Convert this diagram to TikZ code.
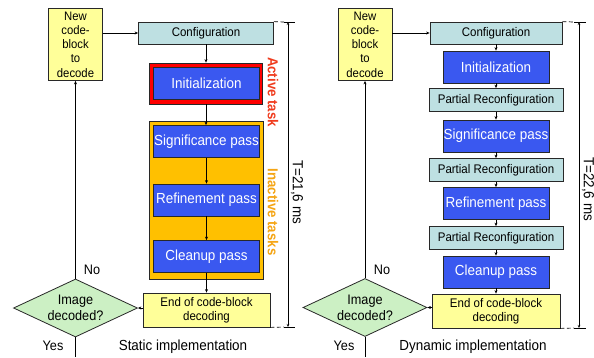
\documentclass[tikz,border=0pt]{standalone}
\usepackage{fontspec}
\setmainfont[FakeStretch=0.92]{Liberation Sans}
\usetikzlibrary{shapes.geometric,arrows.meta}
\definecolor{cfg}{RGB}{190,224,226}
\definecolor{blu}{RGB}{58,88,240}
\definecolor{yel}{RGB}{255,255,153}
\definecolor{grn}{RGB}{204,240,196}
\definecolor{org}{RGB}{255,192,0}
\definecolor{actred}{RGB}{240,60,30}
\definecolor{inact}{RGB}{245,165,20}
\definecolor{edge}{RGB}{40,40,40}
\begin{document}
\begin{tikzpicture}[x=1pt,y=-1pt,
 box/.style={draw=edge,line width=0.8pt,inner sep=0pt,align=center},
 cfgbox/.style={box,fill=cfg,font=\fontsize{12.5}{14}\selectfont},
 passbox/.style={box,fill=blu,text=white,minimum width=106,minimum height=32,font=\fontsize{14.6}{16}\selectfont},
 yelbox/.style={box,fill=yel,font=\fontsize{12.5}{14}\selectfont},
 newbox/.style={yelbox,minimum width=54,minimum height=72,font=\fontsize{12.3}{14.3}\selectfont},
 decision/.style={diamond,draw=edge,line width=0.8pt,fill=grn,inner sep=0pt,aspect=2.14,minimum width=124,minimum height=58,align=center,font=\fontsize{13.8}{16}\selectfont},
 lbl/.style={inner sep=0pt,anchor=base,font=\fontsize{13.8}{15}\selectfont},
 implbl/.style={inner sep=0pt,anchor=base,font=\fontsize{14.6}{16}\selectfont},
 arr/.style={-{Stealth[length=3.5pt,width=3pt]},line width=0.7pt,draw=black},
 ln/.style={line width=0.7pt,draw=black},
 dimline/.style={{Stealth[length=3pt,width=2.5pt]}-{Stealth[length=3pt,width=2.5pt]},line width=0.7pt},
 dashext/.style={line width=0.7pt,dash pattern=on 4pt off 2.5pt},
 sidelbl/.style={rotate=-90,inner sep=0pt,font=\bfseries\fontsize{14.4}{16}\selectfont},
 timelbl/.style={rotate=-90,inner sep=0pt,font=\fontsize{14.6}{16}\selectfont}
]
\useasboundingbox (0,0) rectangle (594,357);
\fill[white] (0,0) rectangle (594,357);

% ---------- left: static ----------
\node[newbox] (newL) at (75.5,44.5) {New\\code-\\block\\to\\decode};
\node[cfgbox,minimum width=135,minimum height=22] (confL) at (206,33) {Configuration};
\node[box,fill=red,minimum width=113,minimum height=41] (redL) at (206,83.5) {};
\node[passbox] (initL) at (206.5,83.5) {Initialization};
\node[box,fill=org,minimum width=114,minimum height=158] (orgL) at (206,200) {};
\node[passbox] (sigL) at (206.5,141.5) {Significance pass};
\node[passbox] (refL) at (206.5,200) {Refinement pass};
\node[passbox] (cleL) at (206.5,256.5) {Cleanup pass};
\node[yelbox,minimum width=127,minimum height=34] (endL) at (206.5,310) {End of code-block\\decoding};
\node[decision] (decL) at (75.5,308) {Image\\decoded?};

\draw[arr] (newL.east |- confL.west) -- (confL.west);
\draw[arr] (confL.south) -- (confL.south |- redL.north);
\draw[arr] (redL.south) -- (redL.south |- sigL.north);
\draw[arr] (sigL.south) -- (refL.north);
\draw[arr] (refL.south) -- (cleL.north);
\draw[arr] (cleL.south) -- (endL.north);
\draw[arr] (endL.west |- decL.east) -- (decL.east);
\draw[arr] (decL.north) -- (newL.south);
\coordinate (botL) at (75.5,357);
\draw[ln] (decL.south) -- (botL);

\node[sidelbl,text=actred] (actL) at (273,92) {Active task};
\node[sidelbl,text=inact] (inactL) at (273,212) {Inactive tasks};

\coordinate (tLt) at (288,22);
\coordinate (tLb) at (288,327);
\coordinate (tLt1) at (284,22);
\coordinate (tLt2) at (295,22);
\coordinate (tLb1) at (284,327);
\coordinate (tLb2) at (295,327);
\draw[dimline] (tLt) -- (tLb);
\draw[ln] (tLt1) -- (tLt2);
\draw[ln] (tLb1) -- (tLb2);
\draw[dashext] (confL.north east) -- (tLt1);
\draw[dashext] (endL.south east) -- (tLb1);
\node[timelbl] (tL) at (297,192) {T=21,6 ms};

\node[lbl] (noL) at (92,274) {No};
\node[lbl] (yesL) at (53,350) {Yes};
\node[implbl] (statL) at (183,350) {Static implementation};

% ---------- right: dynamic ----------
\node[newbox] (newR) at (365,44.5) {New\\code-\\block\\to\\decode};
\node[cfgbox,minimum width=132,minimum height=22] (confR) at (496,33) {Configuration};
\node[passbox] (initR) at (496,67) {Initialization};
\node[cfgbox,minimum width=134,minimum height=23] (prA) at (496,100) {Partial Reconfiguration};
\node[passbox] (sigR) at (496,136) {Significance pass};
\node[cfgbox,minimum width=134,minimum height=23] (prB) at (496,170) {Partial Reconfiguration};
\node[passbox] (refR) at (496,203.5) {Refinement pass};
\node[cfgbox,minimum width=134,minimum height=23] (prC) at (496,238) {Partial Reconfiguration};
\node[passbox] (cleR) at (496,272) {Cleanup pass};
\node[yelbox,minimum width=128,minimum height=34] (endR) at (496,311) {End of code-block\\decoding};
\node[decision] (decR) at (365,307.5) {Image\\decoded?};

\draw[arr] (newR.east |- confR.west) -- (confR.west);
\foreach \a/\b in {confR/initR,initR/prA,prA/sigR,sigR/prB,prB/refR,refR/prC,prC/cleR,cleR/endR}
  \draw[arr] (\a.south) -- (\b.north);
\draw[arr] (endR.west |- decR.east) -- (decR.east);
\draw[arr] (decR.north) -- (newR.south);
\coordinate (botR) at (365,357);
\draw[ln] (decR.south) -- (botR);

\coordinate (tRt) at (579,22);
\coordinate (tRb) at (579,328);
\coordinate (tRt1) at (574,22);
\coordinate (tRt2) at (586,22);
\coordinate (tRb1) at (574,328);
\coordinate (tRb2) at (586,328);
\draw[dimline] (tRt) -- (tRb);
\draw[ln] (tRt1) -- (tRt2);
\draw[ln] (tRb1) -- (tRb2);
\draw[dashext] (confR.north east) -- (tRt1);
\draw[dashext] (endR.south east) -- (tRb1);
\node[timelbl] (tR) at (588,189) {T=22,6 ms};

\node[lbl] (noR) at (382,274) {No};
\node[lbl] (yesR) at (344,350) {Yes};
\node[implbl] (dynR) at (473,350) {Dynamic implementation};
\end{tikzpicture}
\end{document}
